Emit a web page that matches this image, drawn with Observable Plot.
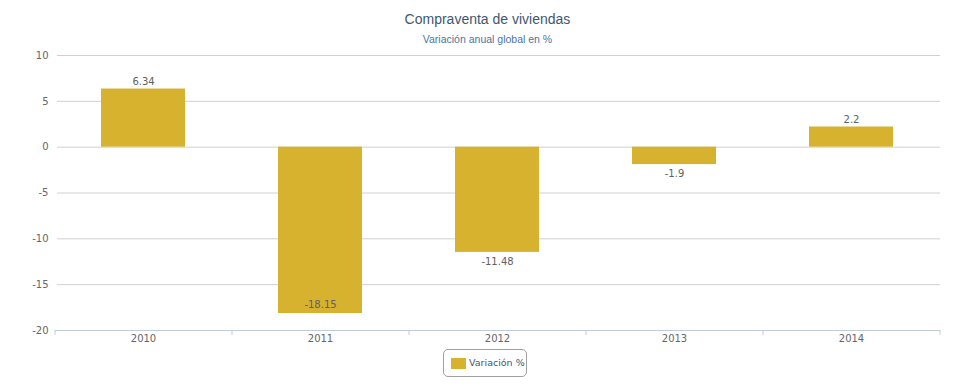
<!DOCTYPE html>
<html>
<head>
<meta charset="utf-8">
<script src="https://cdn.jsdelivr.net/npm/d3@7"></script>
<script src="https://cdn.jsdelivr.net/npm/@observablehq/plot@0.6"></script>
<style>
  html, body { margin: 0; padding: 0; background: #fff; }
  #wrap { position: relative; width: 975px; height: 390px; overflow: hidden; }
  #title { position: absolute; top: 11px; left: 0; width: 975px; text-align: center;
    font-family: "Liberation Sans", Arial, sans-serif; font-size: 14px; color: #3E576F; }
  #subtitle { position: absolute; top: 33px; left: 0; width: 975px; text-align: center;
    font-family: "Liberation Sans", Arial, sans-serif; font-size: 10.5px; color: #4d759e; }
  #chart { position: absolute; top: 48px; left: 0; }
  #legend { position: absolute; left: 443px; top: 349px; width: 82px; height: 26px;
    border: 1px solid #a0a0a0; border-radius: 5px; box-sizing: content-box;
    font-family: "DejaVu Sans", Verdana, sans-serif; font-size: 9.5px; color: #3E576F; }
  #legend .sw { position: absolute; left: 7px; top: 8px; width: 15px; height: 11px; }
  #legend .lb { position: absolute; left: 25px; top: 7px; white-space: nowrap; }
</style>
</head>
<body>
<div id="wrap">
  <div id="title">Compraventa de viviendas</div>
  <div id="subtitle">Variación anual global en %</div>
  <div id="chart"></div>
  <div id="legend"><div class="sw"></div><div class="lb">Variación %</div></div>
</div>
<script>
const years = ["2010", "2011", "2012", "2013", "2014"];
const values = [6.34, -18.15, -11.48, -1.9, 2.2];
const labels = ["6.34", "-18.15", "-11.48", "-1.9", "2.2"];
const yTicks = [-20, -15, -10, -5, 0, 5, 10];
const seriesName = "Variación %";

const barColor = "#D6B22E";
document.querySelector("#legend .sw").style.background = barColor;
document.querySelector("#legend .lb").textContent = seriesName;

const data = years.map((y, i) => ({year: y, value: values[i], label: labels[i]}));
const step = 885 / years.length;

const chart = Plot.plot({
  width: 975,
  height: 300,
  marginTop: 7,
  marginBottom: 18,
  marginLeft: 55,
  marginRight: 35,
  style: {fontFamily: "DejaVu Sans, Verdana, sans-serif", fontSize: "10px", background: "#fff"},
  x: {domain: years, paddingInner: 0.525, paddingOuter: 0.2625, label: null},
  y: {domain: [-20, 10], label: null},
  marks: [
    Plot.ruleY(yTicks.filter(d => d > -20), {stroke: "#d0d0d0", strokeWidth: 1, insetLeft: 2}),
    Plot.ruleY([-20], {stroke: "#c0ccd8", strokeWidth: 1}),
    Plot.barY(data, {x: "year", y: "value", fill: barColor}),
    Plot.axisY({ticks: yTicks, tickSize: 0, tickPadding: 7, tickFormat: d => String(d), fill: "#666", fontSize: 10}),
    Plot.axisX({tickSize: 0, tickPadding: 4, fill: "#666", fontSize: 10}),
    Plot.axisX({tickSize: 5, text: null, dx: -step / 2, stroke: "#c0ccd8"}),
    Plot.axisX({ticks: [years[years.length - 1]], tickSize: 5, text: null, dx: step / 2, stroke: "#c0ccd8"}),
    Plot.text(data.filter(d => d.value >= 0), {x: "year", y: "value", text: "label", lineAnchor: "bottom", dy: -4, fill: "#606060", fontSize: 10}),
    Plot.text(data.filter(d => d.value < 0 && d.value > -15), {x: "year", y: "value", text: "label", lineAnchor: "top", dy: 5, fill: "#606060", fontSize: 10}),
    Plot.text(data.filter(d => d.value <= -15), {x: "year", y: "value", text: "label", lineAnchor: "bottom", dy: -6, fill: "#606060", fontSize: 10})
  ]
});
document.getElementById("chart").appendChild(chart);
</script>
</body>
</html>
